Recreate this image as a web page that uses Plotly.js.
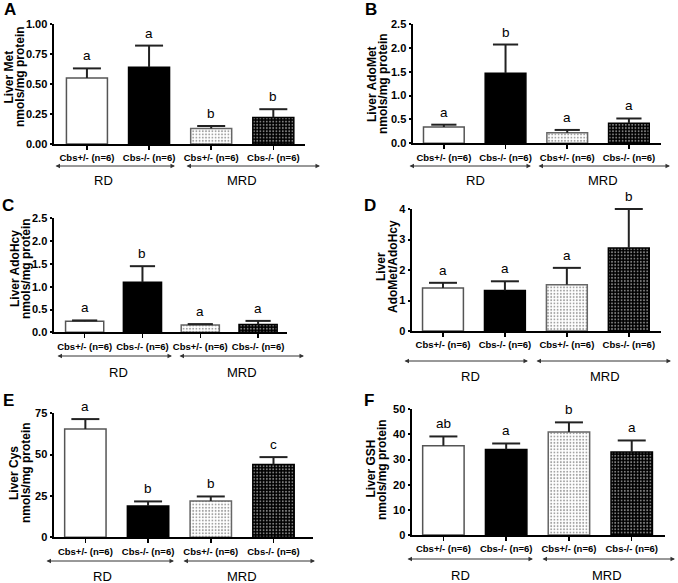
<!DOCTYPE html>
<html>
<head>
<meta charset="utf-8">
<script src="https://cdn.plot.ly/plotly-3.0.1.min.js"></script>
<style>html,body{margin:0;padding:0;background:#fff}#chart{width:678px;height:583px}</style>
</head>
<body>
<div id="chart"></div>
<script>
// ---------- data ----------
const groupLabels = ['Cbs+/- (n=6)', 'Cbs-/- (n=6)', 'Cbs+/- (n=6)', 'Cbs-/- (n=6)'];
const dietLabels = ['RD', 'MRD'];
const panelLetters = ['A', 'B', 'C', 'D', 'E', 'F'];
const yTitleLine1 = ['Liver Met', 'Liver AdoMet', 'Liver AdoHcy', 'Liver', 'Liver Cys', 'Liver GSH'];
const yTitleLine2 = ['nmols/mg protein', 'nmols/mg protein', 'nmols/mg protein', 'AdoMet/AdoHcy', 'nmols/mg protein', 'nmols/mg protein'];

const metMean = [0.55, 0.64, 0.13, 0.22];
const metSem  = [0.08, 0.18, 0.02, 0.07];
const metSig  = ['a', 'a', 'b', 'b'];

const adoMetMean = [0.34, 1.47, 0.22, 0.42];
const adoMetSem  = [0.05, 0.60, 0.06, 0.10];
const adoMetSig  = ['a', 'b', 'a', 'a'];

const adoHcyMean = [0.24, 1.10, 0.16, 0.17];
const adoHcySem  = [0.02, 0.35, 0.02, 0.08];
const adoHcySig  = ['a', 'b', 'a', 'a'];

const ratioMean = [1.41, 1.33, 1.52, 2.72];
const ratioSem  = [0.17, 0.30, 0.55, 1.28];
const ratioSig  = ['a', 'a', 'a', 'b'];

const cysMean = [65.5, 19.0, 22.0, 44.0];
const cysSem  = [6.0, 2.7, 2.7, 4.5];
const cysSig  = ['a', 'b', 'b', 'c'];

const gshMean = [35.5, 34.0, 41.0, 33.0];
const gshSem  = [3.7, 2.4, 3.8, 4.6];
const gshSig  = ['ab', 'a', 'b', 'a'];

const yTickVals = [
  [0, 0.25, 0.5, 0.75, 1.0],
  [0, 0.5, 1.0, 1.5, 2.0, 2.5],
  [0, 0.5, 1.0, 1.5, 2.0, 2.5],
  [0, 1, 2, 3, 4],
  [0, 25, 50, 75],
  [0, 10, 20, 30, 40, 50]
];
const yTickFormats = ['.2f', '.1f', '.1f', 'd', 'd', 'd'];

const means = [metMean, adoMetMean, adoHcyMean, ratioMean, cysMean, gshMean];
const sems  = [metSem, adoMetSem, adoHcySem, ratioSem, cysSem, gshSem];
const sigs  = [metSig, adoMetSig, adoHcySig, ratioSig, cysSig, gshSig];

// ---------- layout geometry (pixels) ----------
const W = 678, H = 583;
const PX = p => p / W;
const PY = p => 1 - p / H;
const panels = [
  {xd: [54, 305], yd: [24, 144],    xr: [-0.53, 3.51], letter: [10, 9],   arrowY: 166, labY: 180,
   rd: [54, 175], mrd: [185, 320], rdLab: 103, mrdLab: 242, cap: 10, tx: [8.5, 20], ty: 77},
  {xd: [413, 661], yd: [24, 143.3], xr: [-0.5, 3.52], letter: [371, 9],  arrowY: 166, labY: 180,
   rd: [408, 531], mrd: [537, 670], rdLab: 475, mrdLab: 603, cap: 9, tx: [372, 383], ty: 84},
  {xd: [54, 287], yd: [218.3, 332.3], xr: [-0.53, 3.5], letter: [8, 205], arrowY: 356, labY: 372,
   rd: [56, 172], mrd: [178, 304], rdLab: 118, mrdLab: 242, cap: 9, tx: [15, 26], ty: 269},
  {xd: [412, 661], yd: [209, 331],  xr: [-0.5, 3.52], letter: [370, 205], arrowY: 361, labY: 376,
   rd: [403, 528], mrd: [535, 671], rdLab: 470, mrdLab: 605, cap: 10, tx: [381, 393], ty: 267},
  {xd: [54, 313], yd: [413.3, 537.3], xr: [-0.5, 3.63], letter: [8, 400], arrowY: 561, labY: 576,
   rd: [45, 174], mrd: [182, 315], rdLab: 102, mrdLab: 242, cap: 10, tx: [14, 26], ty: 473},
  {xd: [412, 665], yd: [409.3, 535], xr: [-0.5, 3.53], letter: [369, 400], arrowY: 559, labY: 575,
   rd: [406, 533], mrd: [541, 675], rdLab: 460, mrdLab: 607, cap: 10, tx: [370.5, 382], ty: 469}
];

const FONT = 'Liberation Sans, Arial, Helvetica, sans-serif';
const idx = groupLabels.map((_, i) => i);

const barColors   = ['#ffffff', '#000000', '#ffffff', '#000000'];
const lineColors  = ['#555555', '#000000', '#666666', '#000000'];
const patShapes   = ['', '', '.', '.'];
const patFg       = ['#ffffff', '#000000', '#a8a8a8', '#7a7a7a'];

const data = [];
const layout = {
  width: W, height: H,
  margin: {l: 0, r: 0, t: 0, b: 0},
  paper_bgcolor: '#fff', plot_bgcolor: '#fff',
  showlegend: false,
  bargap: 0.34,
  font: {family: FONT, color: '#000'},
  annotations: []
};

panels.forEach((p, k) => {
  const n = k === 0 ? '' : String(k + 1);
  const xa = 'xaxis' + n, ya = 'yaxis' + n;
  // bars
  data.push({
    type: 'bar',
    x: idx,
    y: means[k],
    xaxis: 'x' + n, yaxis: 'y' + n,
    marker: {
      color: barColors,
      line: {color: lineColors, width: 1.5},
      pattern: {shape: patShapes, fgcolor: patFg, size: 3.2, solidity: 0.28, fillmode: 'overlay'}
    },
    hoverinfo: 'y'
  });
  // upper SEM whisker: stem down to the bar top, cap at the top
  data.push({
    type: 'scatter', mode: 'markers',
    x: idx,
    y: means[k].map((m, i) => m + sems[k][i]),
    xaxis: 'x' + n, yaxis: 'y' + n,
    marker: {symbol: 'line-ew', size: 2 * p.cap, color: '#222', line: {color: '#222', width: 2}},
    error_y: {type: 'data', symmetric: false, array: sems[k].map(() => 0), arrayminus: sems[k],
              color: '#222', thickness: 2, width: 0},
    cliponaxis: false,
    hoverinfo: 'skip'
  });
  layout[xa] = {
    domain: [PX(p.xd[0]), PX(p.xd[1])],
    anchor: 'y' + n,
    range: p.xr,
    tickmode: 'array', tickvals: idx, ticktext: groupLabels,
    ticks: 'outside', ticklen: 4, tickwidth: 1.5, tickcolor: '#000',
    showline: true, linecolor: '#000', linewidth: 2,
    showgrid: false, zeroline: false, fixedrange: true,
    tickfont: {family: FONT, size: 9.5, weight: 'bold', color: '#000'}
  };
  const tv = yTickVals[k];
  layout[ya] = {
    domain: [PY(p.yd[1]), PY(p.yd[0])],
    anchor: 'x' + n,
    range: [0, tv[tv.length - 1]],
    tickmode: 'array', tickvals: tv, tickformat: yTickFormats[k],
    ticks: 'outside', ticklen: 2.5, tickwidth: 2, tickcolor: '#000',
    showline: true, linecolor: '#000', linewidth: 2,
    showgrid: false, zeroline: false, fixedrange: true,
    tickfont: {family: FONT, size: 11, weight: 'bold', color: '#000'}
  };
  // y-axis title: two rotated lines
  [yTitleLine1[k], yTitleLine2[k]].forEach((t, j) => {
    layout.annotations.push({
      xref: 'paper', yref: 'paper', x: PX(p.tx[j]), y: PY(p.ty),
      text: t, showarrow: false, textangle: -90, xanchor: 'center', yanchor: 'middle',
      font: {family: FONT, size: 12, weight: 'bold', color: '#000'}
    });
  });
  // significance letters
  sigs[k].forEach((s, i) => {
    layout.annotations.push({
      xref: 'x' + n, yref: 'y' + n, x: i, y: means[k][i] + sems[k][i],
      text: s, showarrow: false, yanchor: 'bottom', yshift: 3,
      font: {family: FONT, size: 13.5, color: '#000'}
    });
  });
  // panel letter
  layout.annotations.push({
    xref: 'paper', yref: 'paper', x: PX(p.letter[0]), y: PY(p.letter[1]),
    text: panelLetters[k], showarrow: false, xanchor: 'center', yanchor: 'middle',
    font: {family: FONT, size: 17, weight: 'bold', color: '#000'}
  });
  // diet group arrows
  [p.rd, p.mrd].forEach(seg => {
    layout.annotations.push({
      xref: 'paper', yref: 'paper', axref: 'paper', ayref: 'paper',
      x: PX(seg[1]), y: PY(p.arrowY), ax: PX(seg[0]), ay: PY(p.arrowY),
      text: '', showarrow: true, arrowhead: 2, arrowside: 'end+start',
      arrowsize: 0.9, arrowwidth: 1, arrowcolor: '#333', standoff: 0, startstandoff: 0
    });
  });
  [[p.rdLab, dietLabels[0]], [p.mrdLab, dietLabels[1]]].forEach(([xp, t]) => {
    layout.annotations.push({
      xref: 'paper', yref: 'paper', x: PX(xp), y: PY(p.labY),
      text: t, showarrow: false, xanchor: 'center', yanchor: 'middle',
      font: {family: FONT, size: 13, color: '#000'}
    });
  });
});

Plotly.newPlot('chart', data, layout, {displayModeBar: false, staticPlot: true});
</script>
</body>
</html>
